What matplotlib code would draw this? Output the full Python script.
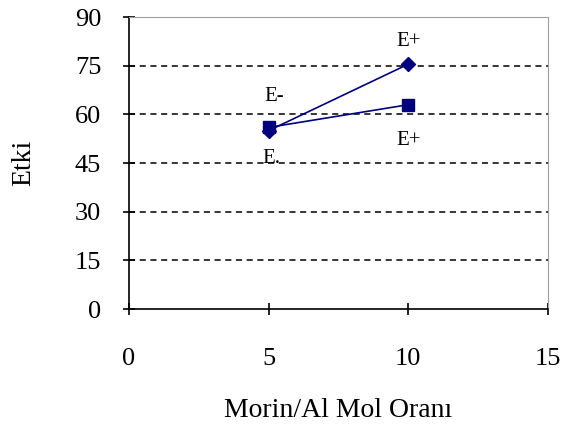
import matplotlib
matplotlib.use("Agg")
import matplotlib.pyplot as plt

x = [5, 10]
series_diamond = [55, 75.5]
series_square = [56, 63]
ann_text = ["E+", "E+", "E-", "E."]
ann_x = [10, 10, 5.2, 5.1]
ann_y = [82.5, 52, 65.5, 46.5]
xticks = [0, 5, 10, 15]
yticks = [0, 15, 30, 45, 60, 75, 90]

plt.rcParams['font.family'] = ['Liberation Serif', 'DejaVu Serif']
fig = plt.figure(figsize=(5.62, 4.28), dpi=100)
ax = fig.add_axes([0.2295, 0.278, 0.7455, 0.682])
navy = '#000080'
for yv in yticks[1:-1]:
    ax.axhline(yv, color='black', linestyle=(0, (4, 3)), linewidth=1.1, zorder=1)
ax.plot(x, series_diamond, color=navy, marker='D', markersize=7, linewidth=1.2, zorder=3)
ax.plot(x, series_square, color=navy, marker='s', markersize=8, linewidth=1.2, zorder=3)
for t, xx, yy in zip(ann_text, ann_x, ann_y):
    ax.text(xx, yy, t, fontsize=15, ha='center', va='center')
ax.set_xlim(0, 15)
ax.set_ylim(0, 90)
ax.set_xticks(xticks)
ax.set_yticks(yticks)
ax.tick_params(direction='inout', length=8, width=1.2, labelsize=19)
ax.tick_params(axis='y', pad=16)
ax.tick_params(axis='x', pad=24)
ax.spines['left'].set_linewidth(1.2)
ax.spines['bottom'].set_linewidth(1.2)
ax.spines['top'].set_color('#a0a0a0')
ax.spines['right'].set_color('#a0a0a0')
ax.set_xlabel('Morin/Al Mol Oranı', fontsize=20, labelpad=20)
ax.set_ylabel('Etki', fontsize=20, labelpad=28)
fig.savefig('out.png', dpi=100)
